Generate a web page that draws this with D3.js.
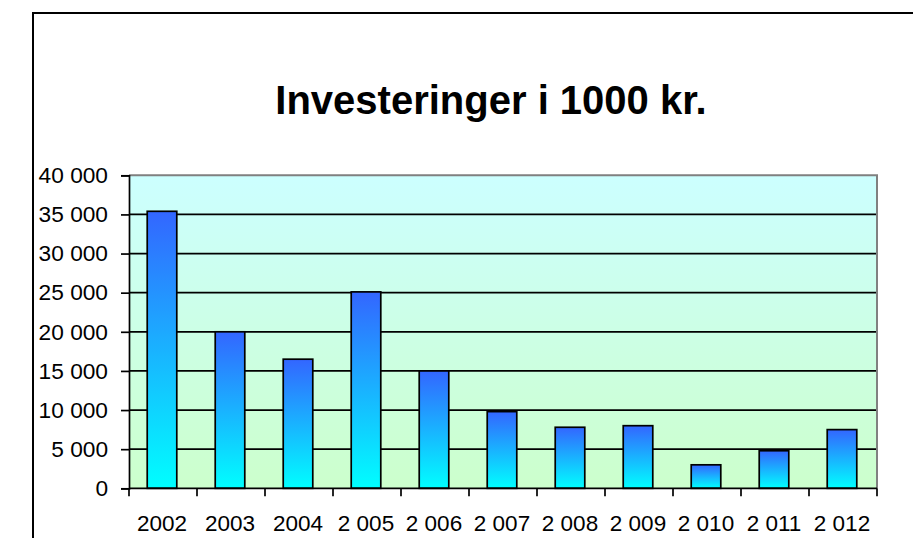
<!DOCTYPE html>
<html>
<head>
<meta charset="utf-8">
<script src="https://cdn.jsdelivr.net/npm/d3@7/dist/d3.min.js"></script>
<style>
  html, body { margin: 0; padding: 0; background: #fff; }
  svg { display: block; }
  text { font-family: "Liberation Sans", Arial, sans-serif; fill: #000; }
</style>
</head>
<body>
<script>
const categories = ["2002", "2003", "2004", "2 005", "2 006", "2 007", "2 008", "2 009", "2 010", "2 011", "2 012"];
const values = [35400, 20000, 16500, 25100, 15000, 9800, 7800, 8000, 3000, 4800, 7500];
const yTicks = [0, 5000, 10000, 15000, 20000, 25000, 30000, 35000, 40000];
const yTickLabels = ["0", "5 000", "10 000", "15 000", "20 000", "25 000", "30 000", "35 000", "40 000"];
const title = "Investeringer i 1000 kr.";

const W = 913, H = 538;
const plot = { left: 129, right: 877, top: 175.3, bottom: 488.3 };

const svg = d3.select("body").append("svg").attr("width", W).attr("height", H);
const defs = svg.append("defs");

const bg = defs.append("linearGradient").attr("id", "bgGrad")
  .attr("x1", 0).attr("y1", 0).attr("x2", 0).attr("y2", 1);
bg.append("stop").attr("offset", "0%").attr("stop-color", "#ccffff");
bg.append("stop").attr("offset", "100%").attr("stop-color", "#ccffcc");

const bar = defs.append("linearGradient").attr("id", "barGrad")
  .attr("x1", 0).attr("y1", 0).attr("x2", 0).attr("y2", 1);
bar.append("stop").attr("offset", "0%").attr("stop-color", "#3366ff");
bar.append("stop").attr("offset", "100%").attr("stop-color", "#00ffff");

// outer frame
svg.append("path")
  .attr("d", `M33,${H + 5} L33,13 L${W + 5},13`)
  .attr("fill", "none").attr("stroke", "#000").attr("stroke-width", 2);

// title
svg.append("text")
  .attr("x", 491).attr("y", 114)
  .attr("text-anchor", "middle")
  .attr("font-size", 40).attr("font-weight", "bold")
  .text(title);

const x = d3.scaleBand().domain(categories).range([plot.left, plot.right])
  .paddingInner(1.3 / 2.3).paddingOuter(1.3 / 2.3 / 2);
const xOuter = d3.scaleBand().domain(categories).range([plot.left, plot.right]);
const y = d3.scaleLinear().domain([0, 40000]).range([plot.bottom, plot.top]);

// plot background
svg.append("rect")
  .attr("x", plot.left).attr("y", plot.top)
  .attr("width", plot.right - plot.left).attr("height", plot.bottom - plot.top)
  .attr("fill", "url(#bgGrad)");

// gridlines
svg.append("g").selectAll("line").data(yTicks.filter(d => d > 0 && d < 40000)).join("line")
  .attr("x1", plot.left).attr("x2", plot.right)
  .attr("y1", d => y(d)).attr("y2", d => y(d))
  .attr("stroke", "#000").attr("stroke-width", 1.7);

// plot border top/right gray
svg.append("path")
  .attr("d", `M${plot.left},${plot.top} L${plot.right},${plot.top} L${plot.right},${plot.bottom}`)
  .attr("fill", "none").attr("stroke", "#808080").attr("stroke-width", 2);

// bars
svg.append("g").selectAll("rect").data(values).join("rect")
  .attr("x", (d, i) => x(categories[i]) - 1)
  .attr("width", x.bandwidth())
  .attr("y", d => y(d))
  .attr("height", d => y(0) - y(d))
  .attr("fill", "url(#barGrad)")
  .attr("stroke", "#000").attr("stroke-width", 1.7);

// y axis
const yAxis = d3.axisLeft(y).tickValues(yTicks)
  .tickFormat((d, i) => yTickLabels[i]).tickSize(8).tickPadding(13);
const gy = svg.append("g").attr("transform", `translate(${plot.left},0)`).call(yAxis);
gy.select(".domain").attr("stroke", "#000").attr("stroke-width", 1.7);
gy.selectAll(".tick line").attr("stroke", "#000").attr("stroke-width", 1.7);
gy.selectAll(".tick text").attr("font-size", 22.7)
  .attr("font-family", "'Liberation Sans', Arial, sans-serif").attr("fill", "#000");

// x axis
const gx = svg.append("g").attr("transform", `translate(0,${plot.bottom})`);
gx.append("line").attr("x1", plot.left).attr("x2", plot.right)
  .attr("y1", 0).attr("y2", 0).attr("stroke", "#000").attr("stroke-width", 1.7);
const boundaries = categories.map(c => xOuter(c)).concat([plot.right]);
gx.selectAll(".xt").data(boundaries).join("line").attr("class", "xt")
  .attr("x1", d => d).attr("x2", d => d).attr("y1", 0).attr("y2", 8)
  .attr("stroke", "#000").attr("stroke-width", 1.7);
gx.selectAll("text").data(categories).join("text")
  .attr("x", d => xOuter(d) + xOuter.bandwidth() / 2 - 1)
  .attr("y", 531 - plot.bottom)
  .attr("text-anchor", "middle")
  .attr("font-size", 22.5)
  .text(d => d);
</script>
</body>
</html>
